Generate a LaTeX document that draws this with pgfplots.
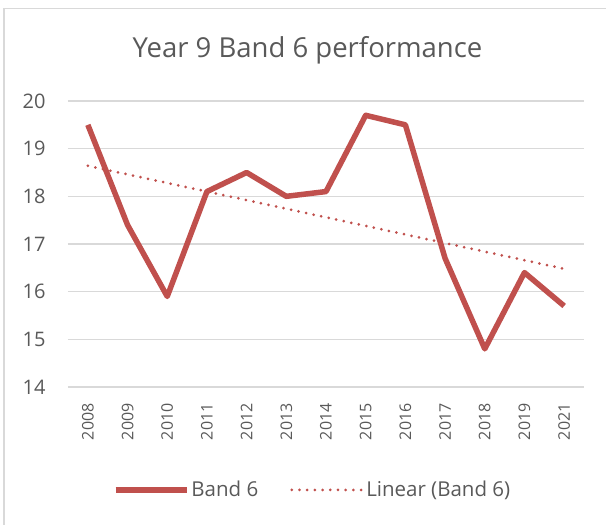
\documentclass[border=0pt]{standalone}
\usepackage{pgfplots}
\pgfplotsset{compat=1.18}
\usepackage{fontspec}
\setmainfont{Open Sans}
\definecolor{bandred}{HTML}{C0504D}
\definecolor{gridgray}{HTML}{D9D9D9}
\definecolor{txtgray}{HTML}{595959}
\begin{document}
\begin{tikzpicture}[x=1pt,y=1pt]
\path[use as bounding box] (0,0) rectangle (606,525);
\draw[gridgray, line width=1.5pt] (4,0) -- (4,516.5) -- (606,516.5);
\node[anchor=base, text=txtgray, font=\fontsize{27.5}{32}\selectfont] at (307.5,467.5) {Year 9 Band 6 performance};
\begin{axis}[
  at={(68pt,138pt)}, anchor=south west,
  scale only axis, width=516pt, height=286pt,
  xmin=-0.5, xmax=12.5, ymin=14, ymax=20,
  xtick={0,...,12},
  xticklabels={2008,2009,2010,2011,2012,2013,2014,2015,2016,2017,2018,2019,2021},
  ytick={14,15,16,17,18,19,20},
  /pgf/number format/assume math mode=true,
  axis line style={draw=none},
  major tick length=0pt,
  ymajorgrids, grid style={gridgray, line width=1.2pt},
  xticklabel style={rotate=90, anchor=east, text=txtgray, font=\fontsize{16}{19}\selectfont},
  yticklabel style={text=txtgray, font=\fontsize{20}{24}\selectfont},
  xtick pos=bottom, ytick pos=left,
  xticklabel shift=13pt, yticklabel shift=19pt,
  legend columns=2,
  legend style={at={(0.474,-0.36)}, anchor=center, draw=none, fill=none,
    font=\fontsize{20.5}{24}\selectfont, text=txtgray,
    /tikz/every even column/.append style={column sep=30pt}},
  legend cell align=left,
  legend image code/.code={\draw[#1] (0pt,0pt) -- (71pt,0pt);},
]
\addplot[bandred, line width=5.5pt, line join=round] coordinates {
 (0,19.5) (1,17.4) (2,15.9) (3,18.1) (4,18.5) (5,18.0) (6,18.1)
 (7,19.7) (8,19.5) (9,16.7) (10,14.8) (11,16.4) (12,15.7)};
\addlegendentry{Band 6}
\addplot[bandred, line width=3pt, line cap=round, dash pattern=on 0pt off 7.7pt] coordinates {
 (0,18.64) (12,16.48)};
\addlegendentry{Linear (Band 6)}
\end{axis}
\end{tikzpicture}
\end{document}
